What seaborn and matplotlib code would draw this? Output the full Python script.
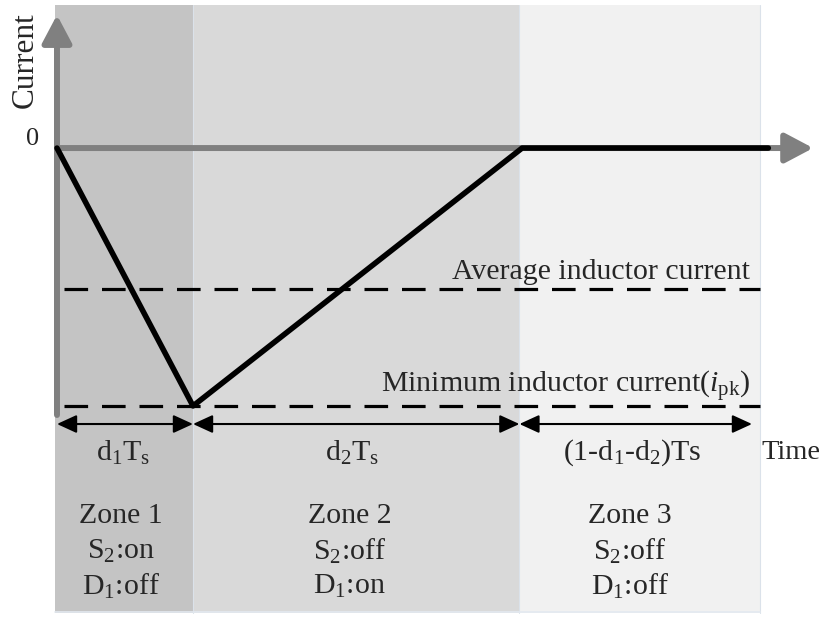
import numpy as np
import pandas as pd
import matplotlib
matplotlib.use('Agg')
import matplotlib.pyplot as plt
import seaborn as sns

# datos (tiempo en unidades de d1Ts, corriente normalizada a i_pk)
zone_edges = [-0.015, 1.0, 3.40, 5.17]
zone_colors = ['#c4c4c4', '#d9d9d9', '#f1f1f1']
wave_t = [0.0, 1.0, 3.42, 5.23]
wave_i = [0.0, -1.0, 0.0, 0.0]
avg_current = -0.547
min_current = -1.0
interval_edges = [0.0, 1.0, 3.40, 5.11]
interval_labels = [r'$\mathregular{d_1T_s}$', r'$\mathregular{d_2T_s}$',
                   r'$\mathregular{(1\text{-}d_1\text{-}d_2)Ts}$']
zone_names = ['Zone 1', 'Zone 2', 'Zone 3']
s2_state = [r'$\mathregular{S_2}$:on', r'$\mathregular{S_2}$:off', r'$\mathregular{S_2}$:off']
d1_state = [r'$\mathregular{D_1}$:off', r'$\mathregular{D_1}$:on', r'$\mathregular{D_1}$:off']

sns.set_theme(style='white')
plt.rcParams['font.family'] = ['Liberation Serif', 'DejaVu Serif']
plt.rcParams['mathtext.fontset'] = 'custom'
plt.rcParams['mathtext.rm'] = 'Liberation Serif'
plt.rcParams['mathtext.it'] = 'Liberation Serif:italic'
plt.rcParams['mathtext.bf'] = 'Liberation Serif:bold'
plt.rcParams['lines.scale_dashes'] = False

fs = 21.5

fig = plt.figure(figsize=(8.34, 6.19), dpi=100)
ax = fig.add_axes([0, 0, 1, 1])

# zonas sombreadas
for i in range(3):
    ax.axvspan(zone_edges[i], zone_edges[i + 1], ymin=0.0097, ymax=0.992,
               color=zone_colors[i], lw=0, zorder=0)
for x in zone_edges[1:]:
    ax.axvline(x, ymin=0.0097, ymax=0.992, color='#dbe2ea', lw=0.8, zorder=0.5)
ax.plot([zone_edges[0], zone_edges[-1]], [-1.80, -1.80], color='#e3e9f0', lw=1.2, zorder=0.5)

# lineas discontinuas
ax.plot([0.05, 5.17], [avg_current, avg_current], color='black', lw=2.3,
        dashes=(17, 10), zorder=2)
ax.plot([0.05, 5.17], [min_current, min_current], color='black', lw=2.3,
        dashes=(17, 10), zorder=2)
ax.text(5.096, -0.48, 'Average inductor current', ha='right', va='center', fontsize=fs)
ax.text(5.096, -0.925, r'Minimum inductor current($i_{\mathregular{pk}}$)',
        ha='right', va='center', fontsize=fs)

# ejes con flecha
gray = '#808080'
ax.annotate('', xy=(0, 0.516), xytext=(0, -1.035),
            arrowprops=dict(arrowstyle='-|>,head_length=0.85,head_width=0.45',
                            mutation_scale=20, color=gray, lw=4.3,
                            shrinkA=0, shrinkB=0), zorder=3)
ax.annotate('', xy=(5.56, 0), xytext=(0, 0),
            arrowprops=dict(arrowstyle='-|>,head_length=0.85,head_width=0.45',
                            mutation_scale=20, color=gray, lw=4.3,
                            shrinkA=0, shrinkB=0), zorder=3)
ax.text(-0.235, 0.341, 'Current', rotation=90, ha='center', va='center', fontsize=22.5)
ax.text(-0.176, 0.035, '0', ha='center', va='center', fontsize=19)

# forma de onda
df = pd.DataFrame({'t': wave_t, 'i': wave_i})
sns.lineplot(data=df, x='t', y='i', ax=ax, color='black', lw=4, sort=False,
             estimator=None, zorder=4)
ax.set_xlim(-0.419, 5.713)
ax.set_ylim(-1.826, 0.574)
ax.axis('off')

# flechas de intervalo
for i in range(3):
    ax.annotate('', xy=(interval_edges[i + 1], -1.07), xytext=(interval_edges[i], -1.07),
                arrowprops=dict(arrowstyle='<|-|>,head_length=1.2,head_width=0.55',
                                mutation_scale=10, color='black', lw=1.5,
                                shrinkA=0, shrinkB=0), zorder=5)

label_x = [0.485, 2.17, 4.23]
zone_x = [0.47, 2.15, 4.21]
for i in range(3):
    ax.text(label_x[i], -1.182, interval_labels[i], ha='center', va='center', fontsize=fs)
    ax.text(zone_x[i], -1.425, zone_names[i], ha='center', va='center', fontsize=fs)
    ax.text(zone_x[i], -1.562, s2_state[i], ha='center', va='center', fontsize=fs)
    ax.text(zone_x[i], -1.698, d1_state[i], ha='center', va='center', fontsize=fs)
ax.text(5.40, -1.182, 'Time', ha='center', va='center', fontsize=20.5)

fig.savefig('out.png', dpi=100)
